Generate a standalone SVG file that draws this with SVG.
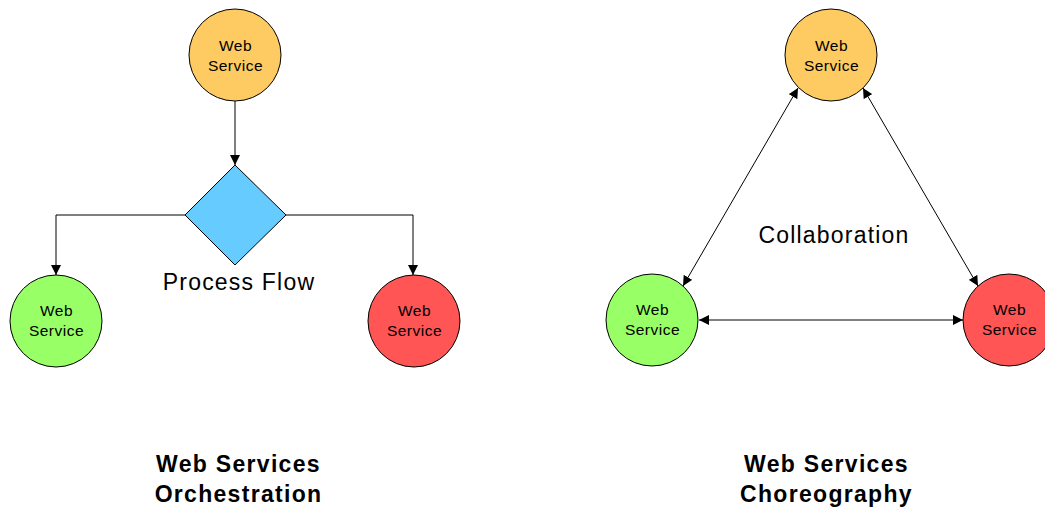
<svg xmlns="http://www.w3.org/2000/svg" width="1045" height="509" viewBox="0 0 1045 509">
<style>
.n{stroke:#000;stroke-width:1}
.t{font-family:"Liberation Sans",Arial,sans-serif;font-size:15.5px;letter-spacing:0.5px;fill:#000;text-anchor:middle}
.l{font-family:"Liberation Sans",Arial,sans-serif;font-size:23px;letter-spacing:1.2px;fill:#000;text-anchor:middle}
.h{font-family:"Liberation Sans",Arial,sans-serif;font-size:23px;letter-spacing:1.3px;font-weight:bold;fill:#000;text-anchor:middle}
.c{fill:none;stroke:#000;stroke-width:1}
</style>
<defs>
<marker id="a" viewBox="0 0 10 10" refX="10" refY="5" markerWidth="10" markerHeight="10" markerUnits="userSpaceOnUse" orient="auto-start-reverse">
<path d="M0,0 L10,5 L0,10 Z" fill="#000"/>
</marker>
</defs>
<rect width="1045" height="509" fill="#fff"/>
<g id="connectors">
<line class="c" x1="235" y1="100" x2="235" y2="165" marker-end="url(#a)"/>
<polyline class="c" points="185,215 56,215 56,275" marker-end="url(#a)"/>
<polyline class="c" points="286,215 413,215 413,275" marker-end="url(#a)"/>
<line class="c" x1="798" y1="88" x2="683" y2="286" marker-start="url(#a)" marker-end="url(#a)"/>
<line class="c" x1="863" y1="88" x2="978" y2="286" marker-start="url(#a)" marker-end="url(#a)"/>
<line class="c" x1="699" y1="320" x2="963" y2="320" marker-start="url(#a)" marker-end="url(#a)"/>
</g>
<g id="orch-top">
<circle class="n" cx="235" cy="55" r="46" fill="#FECB62"/>
<text class="t" x="235.5" y="51">Web</text><text class="t" x="235.5" y="71">Service</text>
</g>
<g id="orch-decision">
<polygon class="n" points="235,165 286,215 235,265 185,215" fill="#66CCFF"/>
</g>
<g id="orch-left">
<circle class="n" cx="56" cy="321" r="46" fill="#99FF66"/>
<text class="t" x="56.5" y="316">Web</text><text class="t" x="56.5" y="336">Service</text>
</g>
<g id="orch-right">
<circle class="n" cx="414" cy="321" r="46" fill="#FF5555"/>
<text class="t" x="414.5" y="316">Web</text><text class="t" x="414.5" y="336">Service</text>
</g>
<text class="l" x="239" y="290">Process Flow</text>
<g id="chor-top">
<circle class="n" cx="831" cy="55" r="46" fill="#FECB62"/>
<text class="t" x="831.5" y="51">Web</text><text class="t" x="831.5" y="71">Service</text>
</g>
<g id="chor-left">
<circle class="n" cx="652" cy="320" r="46" fill="#99FF66"/>
<text class="t" x="652.5" y="315">Web</text><text class="t" x="652.5" y="335">Service</text>
</g>
<g id="chor-right">
<circle class="n" cx="1009" cy="320" r="46" fill="#FF5555"/>
<text class="t" x="1009.5" y="315">Web</text><text class="t" x="1009.5" y="335">Service</text>
</g>
<text class="l" x="834" y="243">Collaboration</text>
<text class="h" x="238.5" y="472">Web Services</text>
<text class="h" x="238.5" y="502">Orchestration</text>
<text class="h" x="826.5" y="472">Web Services</text>
<text class="h" x="826.5" y="502">Choreography</text>
</svg>
